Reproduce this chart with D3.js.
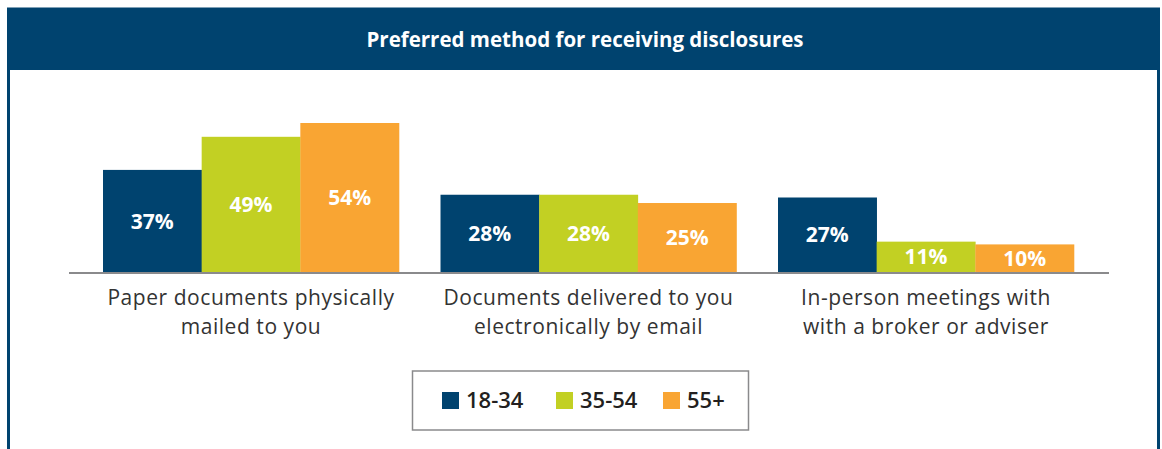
<!DOCTYPE html>
<html><head><meta charset="utf-8">
<script src="https://cdn.jsdelivr.net/npm/d3@7"></script>
<style>
html,body{margin:0;padding:0;background:#fff;}
svg{display:block;}
</style>
</head><body>
<svg id="chart" width="1162" height="449"></svg>
<script>
const title = "Preferred method for receiving disclosures";
const categories = ["Paper documents physically mailed to you", "Documents delivered to you electronically by email", "In-person meetings with with a broker or adviser"];
const categoryLines = [["Paper documents physically", "mailed to you"], ["Documents delivered to you", "electronically by email"], ["In-person meetings with", "with a broker or adviser"]];
const seriesNames = ["18-34", "35-54", "55+"];
const values18_34 = [37, 28, 27];
const values35_54 = [49, 28, 11];
const values55plus = [54, 25, 10];
const seriesValues = [values18_34, values35_54, values55plus];
const colors = ["#00436f", "#c2d023", "#f9a533"];

const svg = d3.select("#chart");
const font = "'Open Sans', 'Noto Sans', sans-serif";
const dark = "#00436f";

// frame
svg.append("rect").attr("x", 8.5).attr("y", 9).attr("width", 1150).attr("height", 460)
  .attr("fill", "#fff").attr("stroke", dark).attr("stroke-width", 3);
svg.append("rect").attr("x", 7).attr("y", 8).attr("width", 1153).attr("height", 62).attr("fill", dark);
svg.append("text").attr("x", 585).attr("y", 47).attr("text-anchor", "middle")
  .attr("fill", "#fff").attr("font-family", font).attr("font-weight", 700).attr("font-size", 20.5)
  .text(title);

const baseY = 272;
const x0 = d3.scaleBand().domain(categories).range([82.25, 1094.75]).paddingInner(0.123).paddingOuter(0.0615);
const x1 = d3.scaleBand().domain(seriesNames).range([0, x0.bandwidth()]).padding(0);
const y = d3.scaleLinear().domain([0, 54]).range([baseY, 123]);

const data = [];
categories.forEach((c, i) => seriesNames.forEach((s, j) => data.push({c, s, j, v: seriesValues[j][i]})));

svg.append("g").selectAll("rect").data(data).join("rect")
  .attr("x", d => x0(d.c) + x1(d.s))
  .attr("y", d => y(d.v))
  .attr("width", x1.bandwidth() + 0.3)
  .attr("height", d => baseY - y(d.v))
  .attr("fill", d => colors[d.j]);

svg.append("g").selectAll("text").data(data).join("text")
  .attr("x", d => x0(d.c) + x1(d.s) + x1.bandwidth() / 2)
  .attr("y", d => (y(d.v) + baseY) / 2)
  .attr("dy", "0.36em")
  .attr("text-anchor", "middle").attr("fill", "#fff")
  .attr("font-family", font).attr("font-weight", 700).attr("font-size", 21)
  .text(d => d.v + "%");

// baseline axis
svg.append("line").attr("x1", 69).attr("x2", 1109).attr("y1", baseY + 1).attr("y2", baseY + 1)
  .attr("stroke", "#8a8a8c").attr("stroke-width", 2);

// category labels (two lines each)
const lineData = [];
categories.forEach((c, i) => categoryLines[i].forEach((ln, k) => lineData.push({c, ln, k})));
svg.append("g").selectAll("text").data(lineData).join("text")
  .attr("x", d => x0(d.c) + x0.bandwidth() / 2)
  .attr("y", d => 305 + d.k * 28.8)
  .attr("text-anchor", "middle").attr("fill", "#333")
  .attr("font-family", font).attr("font-size", 21).attr("letter-spacing", 0.55)
  .text(d => d.ln);

// legend
const lg = svg.append("g");
lg.append("rect").attr("x", 412.5).attr("y", 371).attr("width", 336).attr("height", 59)
  .attr("fill", "#fff").attr("stroke", "#8a8a8c").attr("stroke-width", 1.5);
const legX = [442, 556, 663];
seriesNames.forEach((s, j) => {
  lg.append("rect").attr("x", legX[j]).attr("y", 392).attr("width", 17).attr("height", 17).attr("fill", colors[j]);
  lg.append("text").attr("x", legX[j] + 24).attr("y", 408)
    .attr("fill", "#231f20").attr("font-family", font).attr("font-weight", 600).attr("font-size", 22)
    .text(s);
});
</script>
</body></html>
